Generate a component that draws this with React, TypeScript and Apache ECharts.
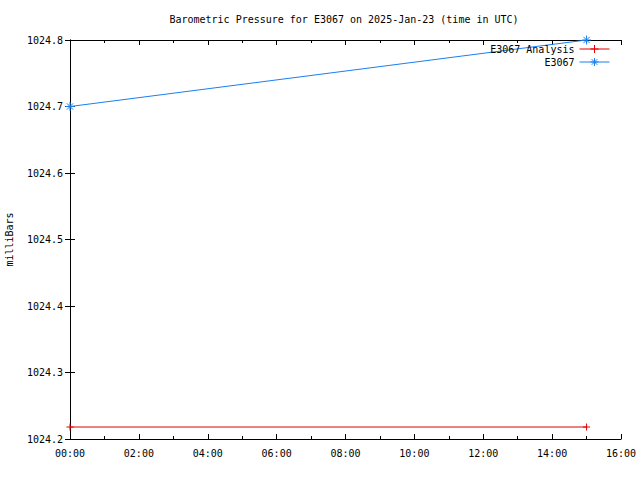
import React, { useEffect, useRef } from "react";
import * as echarts from "echarts";

const titleText = "Barometric Pressure for E3067 on 2025-Jan-23 (time in UTC)";
const yAxisName = "milliBars";
const analysisName = "E3067 Analysis";
const analysisTimes = ["00:00", "15:00"];
const analysisValues = [1024.218, 1024.218];
const obsName = "E3067";
const obsTimes = ["00:00", "15:00"];
const obsValues = [1024.7, 1024.8];

const toHours = (t: string) => {
  const [h, m] = t.split(":").map(Number);
  return h + m / 60;
};
const fmt = (v: number) => String(Math.round(v)).padStart(2, "0") + ":00";

const FONT = "DejaVu Sans Mono";
const RED = "#e00000";
const BLUE = "#1a7ff0";
const STAR = "path://M5 0 L5 10 M0 5 L10 5 M1.5 1.5 L8.5 8.5 M1.5 8.5 L8.5 1.5";
const PLUS = "path://M5 0 L5 10 M0 5 L10 5";
const CLEAR = "rgba(0,0,0,0)";

export default function App() {
  const ref = useRef<HTMLDivElement>(null);
  useEffect(() => {
    const chart = echarts.init(ref.current!, null, { renderer: "svg" });
    const axisLine = { show: true, lineStyle: { color: "#000", width: 1 } };
    const xCommon = {
      type: "value" as const,
      min: 0,
      max: 16,
      interval: 2,
      axisLine,
      splitLine: { show: false },
      axisTick: { show: true, inside: true, length: 5, lineStyle: { color: "#000" } },
      minorTick: { show: true, splitNumber: 2, length: 3, lineStyle: { color: "#000" } },
    };
    const yCommon = {
      type: "value" as const,
      min: 1024.2,
      max: 1024.8,
      interval: 0.1,
      axisLine,
      splitLine: { show: false },
      axisTick: { show: true, inside: true, length: 5, lineStyle: { color: "#000" } },
    };
    chart.setOption({
      animation: false,
      title: {
        text: titleText,
        left: 339,
        top: 9,
        textAlign: "center",
        textStyle: { fontFamily: FONT, fontSize: 10, fontWeight: "normal", color: "#000" },
      },
      grid: { left: 70, right: 19, top: 40, bottom: 41, outerBoundsMode: "none", containLabel: false },
      legend: {
        orient: "vertical",
        right: 25,
        top: 39,
        align: "right",
        itemWidth: 30,
        itemHeight: 10,
        itemGap: 3,
        textStyle: { fontFamily: FONT, fontSize: 10, color: "#000" },
        data: [
          {
            name: analysisName,
            itemStyle: { color: CLEAR, borderColor: RED, borderWidth: 1 },
            lineStyle: { color: RED, width: 1 },
          },
          {
            name: obsName,
            itemStyle: { color: CLEAR, borderColor: BLUE, borderWidth: 1 },
            lineStyle: { color: BLUE, width: 1 },
          },
        ],
      },
      xAxis: [
        {
          ...xCommon,
          position: "bottom",
          axisLabel: {
            formatter: fmt,
            fontFamily: FONT,
            fontSize: 10,
            color: "#000",
            margin: 9,
          },
        },
        { ...xCommon, position: "top", axisLabel: { show: false } },
      ],
      yAxis: [
        {
          ...yCommon,
          position: "left",
          name: yAxisName,
          nameLocation: "middle",
          nameGap: 56,
          nameRotate: 90,
          nameTextStyle: { fontFamily: FONT, fontSize: 10, color: "#000" },
          axisLabel: {
            formatter: (v: number) => v.toFixed(1),
            fontFamily: FONT,
            fontSize: 10,
            color: "#000",
            margin: 7,
          },
        },
        { ...yCommon, position: "right", axisLabel: { show: false } },
      ],
      series: [
        {
          name: analysisName,
          type: "line",
          data: analysisTimes.map((t, i) => [toHours(t), analysisValues[i]]),
          symbol: PLUS,
          symbolSize: 7,
          showAllSymbol: true,
          lineStyle: { color: RED, width: 1 },
          itemStyle: { color: CLEAR, borderColor: RED, borderWidth: 1 },
          emphasis: { disabled: true },
        },
        {
          name: obsName,
          type: "line",
          data: obsTimes.map((t, i) => [toHours(t), obsValues[i]]),
          symbol: STAR,
          symbolSize: 9,
          showAllSymbol: true,
          lineStyle: { color: BLUE, width: 1 },
          itemStyle: { color: CLEAR, borderColor: BLUE, borderWidth: 1 },
          emphasis: { disabled: true },
        },
      ],
    });
    return () => chart.dispose();
  }, []);
  return (
    <div
      ref={ref}
      style={{ position: "absolute", left: 0, top: 0, width: 640, height: 480, background: "#fff" }}
    />
  );
}
